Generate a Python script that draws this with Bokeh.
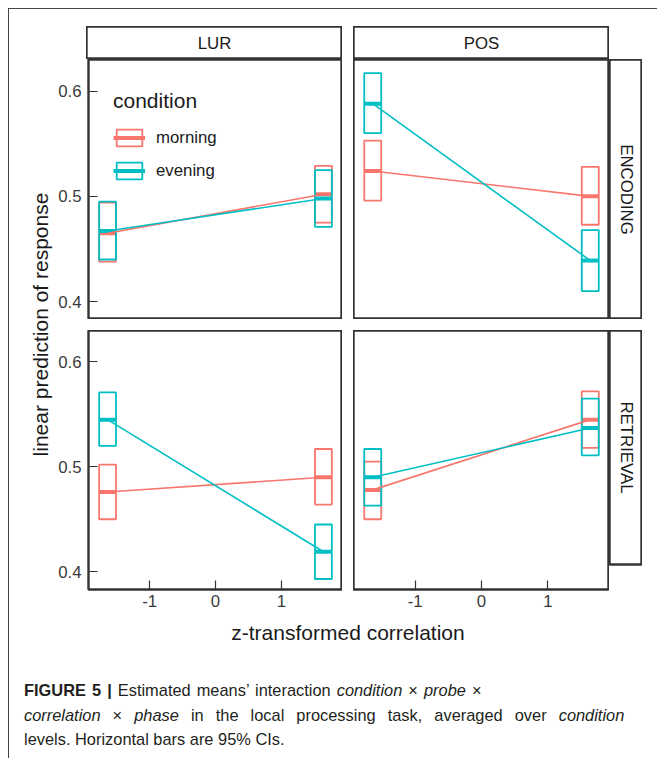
import math
from bokeh.plotting import figure
from bokeh.models import Range1d, FixedTicker, Legend, LegendItem, Spacer, Div
from bokeh.layouts import row, column
from bokeh.core.properties import value
from bokeh.embed import file_html
from bokeh.resources import INLINE

# ---------------- data ----------------
corr_levels = [-1.64, 1.64]          # z-transformed correlation levels
x_ticks = [-1, 0, 1]
x_tick_labels = ["-1", "0", "1"]
y_ticks = [0.4, 0.5, 0.6]
y_tick_labels = ["0.4", "0.5", "0.6"]
probes = ["LUR", "POS"]
phases = ["ENCODING", "RETRIEVAL"]
conditions = ["morning", "evening"]

# LUR / ENCODING
lur_enc_morning_mean = [0.465, 0.502]
lur_enc_morning_lower = [0.438, 0.475]
lur_enc_morning_upper = [0.494, 0.529]
lur_enc_evening_mean = [0.467, 0.498]
lur_enc_evening_lower = [0.440, 0.471]
lur_enc_evening_upper = [0.495, 0.525]
# POS / ENCODING
pos_enc_morning_mean = [0.524, 0.500]
pos_enc_morning_lower = [0.496, 0.473]
pos_enc_morning_upper = [0.553, 0.528]
pos_enc_evening_mean = [0.588, 0.439]
pos_enc_evening_lower = [0.560, 0.410]
pos_enc_evening_upper = [0.617, 0.468]
# LUR / RETRIEVAL
lur_ret_morning_mean = [0.476, 0.490]
lur_ret_morning_lower = [0.450, 0.464]
lur_ret_morning_upper = [0.502, 0.517]
lur_ret_evening_mean = [0.545, 0.419]
lur_ret_evening_lower = [0.520, 0.393]
lur_ret_evening_upper = [0.571, 0.445]
# POS / RETRIEVAL
pos_ret_morning_mean = [0.478, 0.545]
pos_ret_morning_lower = [0.450, 0.518]
pos_ret_morning_upper = [0.505, 0.572]
pos_ret_evening_mean = [0.490, 0.537]
pos_ret_evening_lower = [0.463, 0.511]
pos_ret_evening_upper = [0.517, 0.565]

panel_data = {
    ("LUR", "ENCODING"): {
        "morning": (lur_enc_morning_mean, lur_enc_morning_lower, lur_enc_morning_upper),
        "evening": (lur_enc_evening_mean, lur_enc_evening_lower, lur_enc_evening_upper)},
    ("POS", "ENCODING"): {
        "morning": (pos_enc_morning_mean, pos_enc_morning_lower, pos_enc_morning_upper),
        "evening": (pos_enc_evening_mean, pos_enc_evening_lower, pos_enc_evening_upper)},
    ("LUR", "RETRIEVAL"): {
        "morning": (lur_ret_morning_mean, lur_ret_morning_lower, lur_ret_morning_upper),
        "evening": (lur_ret_evening_mean, lur_ret_evening_lower, lur_ret_evening_upper)},
    ("POS", "RETRIEVAL"): {
        "morning": (pos_ret_morning_mean, pos_ret_morning_lower, pos_ret_morning_upper),
        "evening": (pos_ret_evening_mean, pos_ret_evening_lower, pos_ret_evening_upper)},
}

# ---------------- style ----------------
FONT = "Liberation Sans"
COLORS = {"morning": "#F8766D", "evening": "#00BFC4"}
BAR_HALF = 0.128
X_RANGE = (-1.93, 1.93)
Y_RANGE = (0.383, 0.630)
BORDER = "#333333"
PANEL_W = 256
YLAB_W = 46
AXIS_W = 31
AXIS_H = 25
GAP = 11
STRIP = 33
TOP_H = 260
BOT_H = 259


def make_panel(probe, phase, show_y, show_x, height, legend=False):
    w = PANEL_W + (AXIS_W if show_y else 0)
    h = height + (AXIS_H if show_x else 0)
    p = figure(width=w, height=h,
               x_range=Range1d(*X_RANGE), y_range=Range1d(*Y_RANGE),
               output_backend="svg", toolbar_location=None,
               x_axis_location="below" if show_x else None,
               y_axis_location="left" if show_y else None,
               min_border=0,
               min_border_left=AXIS_W if show_y else 0,
               min_border_bottom=AXIS_H if show_x else 0,
               outline_line_color=BORDER, outline_line_width=2.4,
               background_fill_color="white", border_fill_color="white")
    p.grid.visible = False
    data = panel_data[(probe, phase)]
    box_renderers = {}
    for cond in conditions:
        mean, lo, hi = data[cond]
        c = COLORS[cond]
        left = [x - BAR_HALF for x in corr_levels]
        right = [x + BAR_HALF for x in corr_levels]
        rb = p.quad(left=left, right=right, bottom=lo, top=hi,
                    fill_color=None, line_color=c, line_width=1.8)
        rm = p.segment(x0=left, x1=right, y0=mean, y1=mean,
                       line_color=c, line_width=4)
        box_renderers[cond] = [rb, rm]
    for cond in conditions:
        mean, lo, hi = data[cond]
        p.line(corr_levels, mean, line_color=COLORS[cond], line_width=1.6)
    if show_y:
        ax = p.yaxis[0]
        ax.ticker = FixedTicker(ticks=y_ticks)
        ax.major_label_overrides = dict(zip(y_ticks, y_tick_labels))
    if show_x:
        ax = p.xaxis[0]
        ax.ticker = FixedTicker(ticks=x_ticks)
        ax.major_label_overrides = dict(zip(x_ticks, x_tick_labels))
    for ax in p.xaxis + p.yaxis:
        ax.axis_line_color = None
        ax.major_tick_in = 9
        ax.major_tick_out = 0
        ax.minor_tick_line_color = None
        ax.major_tick_line_color = BORDER
        ax.major_tick_line_width = 1.2
        ax.major_label_text_font = FONT
        ax.major_label_text_font_size = "16.8px"
        ax.major_label_text_color = "#3a3a3a"
    for ax in p.yaxis:
        ax.major_label_standoff = 7
    for ax in p.xaxis:
        ax.major_label_standoff = 5
    if legend:
        items = [LegendItem(label=cond, renderers=box_renderers[cond]) for cond in conditions]
        lg = Legend(items=items, location=(25, height - 122), title="condition",
                    title_text_font=FONT, title_text_font_size="21px",
                    title_text_font_style="normal",
                    title_text_color="#1a1a1a", title_standoff=14,
                    label_text_font=FONT, label_text_font_size="16.8px",
                    label_text_color="#1a1a1a",
                    glyph_width=32, glyph_height=21, label_height=21,
                    spacing=12, padding=0, margin=0, label_standoff=11,
                    border_line_color=None, background_fill_alpha=0)
        p.add_layout(lg)
    return p


def make_strip(label, w, h, angle):
    s = figure(width=w, height=h, x_range=Range1d(0, 1), y_range=Range1d(0, 1),
               output_backend="svg", toolbar_location=None,
               x_axis_location=None, y_axis_location=None, min_border=0,
               outline_line_color=BORDER, outline_line_width=2.4,
               background_fill_color="white", border_fill_color="white")
    s.grid.visible = False
    s.text(x=[0.5], y=[0.5], text=[label], angle=angle,
           text_align="center", text_baseline="middle",
           text_font=value(FONT), text_font_size="16.8px", text_color="#1a1a1a")
    return s


def make_label(label, w, h, x, y, angle):
    f = figure(width=w, height=h, x_range=Range1d(0, w), y_range=Range1d(0, h),
               output_backend="svg", toolbar_location=None,
               x_axis_location=None, y_axis_location=None, min_border=0,
               outline_line_color=None, background_fill_color="white",
               border_fill_color="white")
    f.grid.visible = False
    f.text(x=[x], y=[y], text=[label], angle=angle,
           text_align="center", text_baseline="middle",
           text_font=value(FONT), text_font_size="21px", text_color="#1a1a1a")
    return f


p_tl = make_panel("LUR", "ENCODING", True, False, TOP_H, legend=True)
p_tr = make_panel("POS", "ENCODING", False, False, TOP_H)
p_bl = make_panel("LUR", "RETRIEVAL", True, True, BOT_H)
p_br = make_panel("POS", "RETRIEVAL", False, True, BOT_H)

s_lur = make_strip(probes[0], PANEL_W, STRIP, 0)
s_pos = make_strip(probes[1], PANEL_W, STRIP, 0)
s_enc = make_strip(phases[0], STRIP, TOP_H, -math.pi / 2)
s_ret = make_strip(phases[1], STRIP, BOT_H, -math.pi / 2)

ylab_h = TOP_H + GAP + BOT_H + AXIS_H
ylab = make_label("linear prediction of response", YLAB_W, ylab_h,
                  31, ylab_h - (TOP_H + GAP + BOT_H) / 2, math.pi / 2)
XLAB_H = 35
xlab = make_label("z-transformed correlation", 640, XLAB_H,
                  YLAB_W + AXIS_W + (2 * PANEL_W + GAP) / 2, 17, 0)

caption_html = (
    '<div style="font-family:\'Liberation Sans\',Arial,sans-serif;font-size:16.4px;'
    'line-height:24.5px;color:#231f20;padding-top:24px;padding-left:10px;white-space:nowrap;">'
    '<span style="word-spacing:1.5px"><b>FIGURE 5 |</b> Estimated means\u2019 interaction '
    '<i>condition</i> \u00d7 <i>probe</i> \u00d7</span><br>'
    '<span style="word-spacing:7.5px"><i>correlation</i> \u00d7 <i>phase</i> in the local processing '
    'task, averaged over <i>condition</i></span><br>'
    'levels. Horizontal bars are 95% CIs.</div>'
)
caption = Div(text=caption_html, width=630, height=100)

layout = column(
    Spacer(width=648, height=17),
    row(Spacer(width=YLAB_W + AXIS_W, height=STRIP), s_lur, Spacer(width=GAP, height=STRIP), s_pos),
    row(
        ylab,
        column(
            row(p_tl, Spacer(width=GAP, height=TOP_H), p_tr, s_enc),
            Spacer(width=10, height=GAP),
            row(p_bl, Spacer(width=GAP, height=BOT_H), p_br, s_ret),
        ),
    ),
    xlab,
    caption,
    margin=(8, 0, 0, 8),
    styles={"border-left": "1.5px solid #444", "border-top": "1.5px solid #444"},
)

with open("out.html", "w") as fh:
    fh.write(file_html(layout, INLINE))
